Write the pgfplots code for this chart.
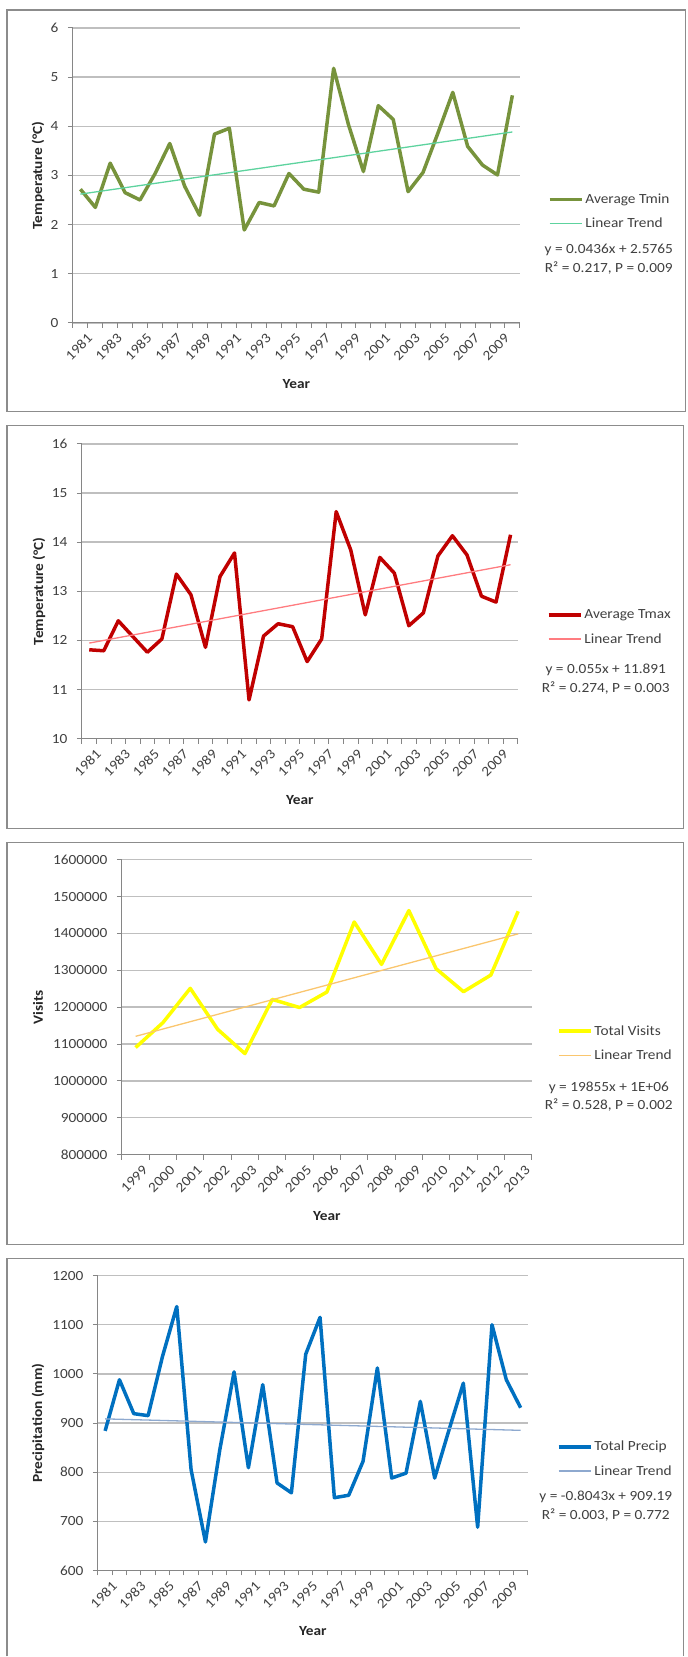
\documentclass[border=0pt]{standalone}
\usepackage{pgfplots}
\pgfplotsset{compat=1.18}
\usepackage{fontspec}
\setmainfont{Carlito}[FakeStretch=1.1]
\definecolor{tmin}{HTML}{77933C}
\definecolor{tmintr}{HTML}{5DD39E}
\definecolor{tmax}{HTML}{C00000}
\definecolor{tmaxtr}{HTML}{FF7C80}
\definecolor{vis}{HTML}{FFFF00}
\definecolor{vistr}{HTML}{FAC66E}
\definecolor{prec}{HTML}{0070C0}
\definecolor{prectr}{HTML}{8EA9CF}
\definecolor{gridc}{HTML}{BFBFBF}
\definecolor{axc}{HTML}{868686}
\definecolor{txt}{HTML}{404040}
\definecolor{lab}{HTML}{262626}
\definecolor{frame}{HTML}{8C8C8C}
\newcommand{\cfont}{\fontsize{14}{19}\selectfont}
\pgfplotsset{
  excel/.style={
    scale only axis,
    axis x line=bottom, axis y line=left,
    axis line style={-, axc, line width=1bp},
    ymajorgrids, grid style={gridc, line width=1.3bp},
    tick align=outside, major tick length=5bp, minor tick length=5bp,
    major x tick style={draw=none},
    minor x tick style={axc, line width=1bp},
    major y tick style={axc, line width=1bp},
    tick label style={font=\cfont, text=txt},
    xticklabel style={rotate=45, anchor=north east, inner sep=0pt, text height=9bp, text depth=0pt, yshift=-8bp, xshift=1bp},
    yticklabel style={xshift=-6bp,
      /pgf/number format/fixed, /pgf/number format/1000 sep={}},
    /pgf/number format/assume math mode=true,
    scaled y ticks=false,
    xlabel style={font=\cfont\bfseries, text=lab, at={(axis description cs:0.5,-0.207)}, anchor=center},
    ylabel style={font=\cfont\bfseries, text=lab, anchor=center},
    legend style={draw=none, fill=none, font=\cfont, text=txt, anchor=west,
      inner sep=0pt, row sep=9bp, cells={anchor=west}},
    legend image code/.code={\draw[#1] (0bp,0bp) -- (32bp,0bp);},
    clip=false,
  },
  mainline/.style={line width=3.5bp, line join=round},
  trendline/.style={line width=1.3bp},
}
\begin{document}
\begin{tikzpicture}
\path (0,0) rectangle (688bp,-1657bp);
% frames
\draw[frame, line width=1.2bp] (7bp,-10bp) rectangle (686bp,-412bp);
\draw[frame, line width=1.2bp] (7bp,-426bp) rectangle (684bp,-829bp);
\draw[frame, line width=1.2bp] (7bp,-843bp) rectangle (684bp,-1245bp);
\draw[frame, line width=1.2bp] (7bp,-1657bp) -- (7bp,-1259bp) -- (684bp,-1259bp) -- (684bp,-1657bp);

% Panel 1
\begin{axis}[excel, at={(73bp,-323bp)}, anchor=south west, width=447bp, height=295bp,
  xmin=0.5, xmax=30.5, ymin=0, ymax=6, ytick={0,1,...,6},
  xtick={1,3,...,29}, xticklabels={1981,1983,1985,1987,1989,1991,1993,1995,1997,1999,2001,2003,2005,2007,2009},
  minor xtick={0.5,1.5,...,30.5},
  xlabel={Year}, ylabel={Temperature (°C)},
  ylabel style={at={(axis description cs:-0.0783,0.5)}},
  legend style={at={(axis description cs:1.0626,0.378)}}]
\addplot[tmin, mainline] coordinates {(1,2.72)(2,2.35)(3,3.25)(4,2.65)(5,2.50)(6,3.03)(7,3.65)(8,2.78)(9,2.19)(10,3.84)(11,3.96)(12,1.89)(13,2.45)(14,2.38)(15,3.04)(16,2.72)(17,2.66)(18,5.18)(19,4.03)(20,3.08)(21,4.42)(22,4.14)(23,2.67)(24,3.06)(25,3.86)(26,4.69)(27,3.59)(28,3.21)(29,3.01)(30,4.63)};
\addlegendentry{Average Tmin}
\addplot[tmintr, trendline] coordinates {(1,2.6201)(30,3.8845)};
\addlegendentry{Linear Trend}
\end{axis}
\node[align=center, font=\cfont, text=txt, inner sep=0pt] at (609bp,-259bp) {y = 0.0436x + 2.5765\\R² = 0.217, P = 0.009};

% Panel 2
\begin{axis}[excel, at={(82bp,-739bp)}, anchor=south west, width=436bp, height=295bp,
  xmin=0.5, xmax=30.5, ymin=10, ymax=16, ytick={10,11,...,16},
  xtick={1,3,...,29}, xticklabels={1981,1983,1985,1987,1989,1991,1993,1995,1997,1999,2001,2003,2005,2007,2009},
  minor xtick={0.5,1.5,...,30.5},
  xlabel={Year}, ylabel={Temperature (°C)},
  ylabel style={at={(axis description cs:-0.0986,0.5)}},
  legend style={at={(axis description cs:1.0665,0.378)}}]
\addplot[tmax, mainline] coordinates {(1,11.81)(2,11.79)(3,12.40)(4,12.08)(5,11.76)(6,12.03)(7,13.35)(8,12.93)(9,11.86)(10,13.30)(11,13.78)(12,10.79)(13,12.09)(14,12.34)(15,12.28)(16,11.57)(17,12.03)(18,14.62)(19,13.84)(20,12.52)(21,13.69)(22,13.37)(23,12.30)(24,12.56)(25,13.72)(26,14.13)(27,13.74)(28,12.90)(29,12.78)(30,14.15)};
\addlegendentry{Average Tmax}
\addplot[tmaxtr, trendline] coordinates {(1,11.946)(30,13.541)};
\addlegendentry{Linear Trend}
\end{axis}
\node[align=center, font=\cfont, text=txt, inner sep=0pt] at (606bp,-679bp) {y = 0.055x + 11.891\\R² = 0.274, P = 0.003};

% Panel 3
\begin{axis}[excel, at={(122bp,-1155bp)}, anchor=south west, width=410bp, height=295bp,
  xmin=0.5, xmax=15.5, ymin=800000, ymax=1600000, ytick={800000,900000,...,1600000},
  xtick={1,2,...,15}, xticklabels={1999,2000,2001,2002,2003,2004,2005,2006,2007,2008,2009,2010,2011,2012,2013},
  minor xtick={0.5,1.5,...,15.5},
  xlabel={Year}, ylabel={Visits},
  ylabel style={at={(axis description cs:-0.2049,0.5)}},
  legend style={at={(axis description cs:1.061,0.378)}}]
\addplot[vis, mainline] coordinates {(1,1090500)(2,1158000)(3,1251000)(4,1140000)(5,1074000)(6,1221000)(7,1199000)(8,1241000)(9,1431000)(10,1316000)(11,1462000)(12,1304000)(13,1242000)(14,1287000)(15,1460000)};
\addlegendentry{Total Visits}
\addplot[vistr, trendline] coordinates {(1,1120855)(15,1398825)};
\addlegendentry{Linear Trend}
\end{axis}
\node[align=center, font=\cfont, text=txt, inner sep=0pt] at (609bp,-1097bp) {y = 19855x + 1E+06\\R² = 0.528, P = 0.002};

% Panel 4
\begin{axis}[excel, at={(98bp,-1571bp)}, anchor=south west, width=430bp, height=295bp,
  xmin=0.5, xmax=30.5, ymin=600, ymax=1200, ytick={600,700,...,1200},
  xtick={1,3,...,29}, xticklabels={1981,1983,1985,1987,1989,1991,1993,1995,1997,1999,2001,2003,2005,2007,2009},
  minor xtick={0.5,1.5,...,30.5},
  xlabel={Year}, ylabel={Precipitation (mm)},
  ylabel style={at={(axis description cs:-0.1395,0.5)}},
  legend style={at={(axis description cs:1.0674,0.378)}}]
\addplot[prec, mainline] coordinates {(1,884)(2,988)(3,919)(4,915)(5,1035)(6,1137)(7,805)(8,658)(9,845)(10,1004)(11,809)(12,978)(13,778)(14,758)(15,1040)(16,1115)(17,748)(18,753)(19,822)(20,1012)(21,788)(22,798)(23,944)(24,788)(25,886)(26,981)(27,688)(28,1100)(29,988)(30,931)};
\addlegendentry{Total Precip}
\addplot[prectr, trendline] coordinates {(1,908.39)(30,885.06)};
\addlegendentry{Linear Trend}
\end{axis}
\node[align=center, font=\cfont, text=txt, inner sep=0pt] at (606bp,-1507bp) {y = -0.8043x + 909.19\\R² = 0.003, P = 0.772};
\end{tikzpicture}
\end{document}
